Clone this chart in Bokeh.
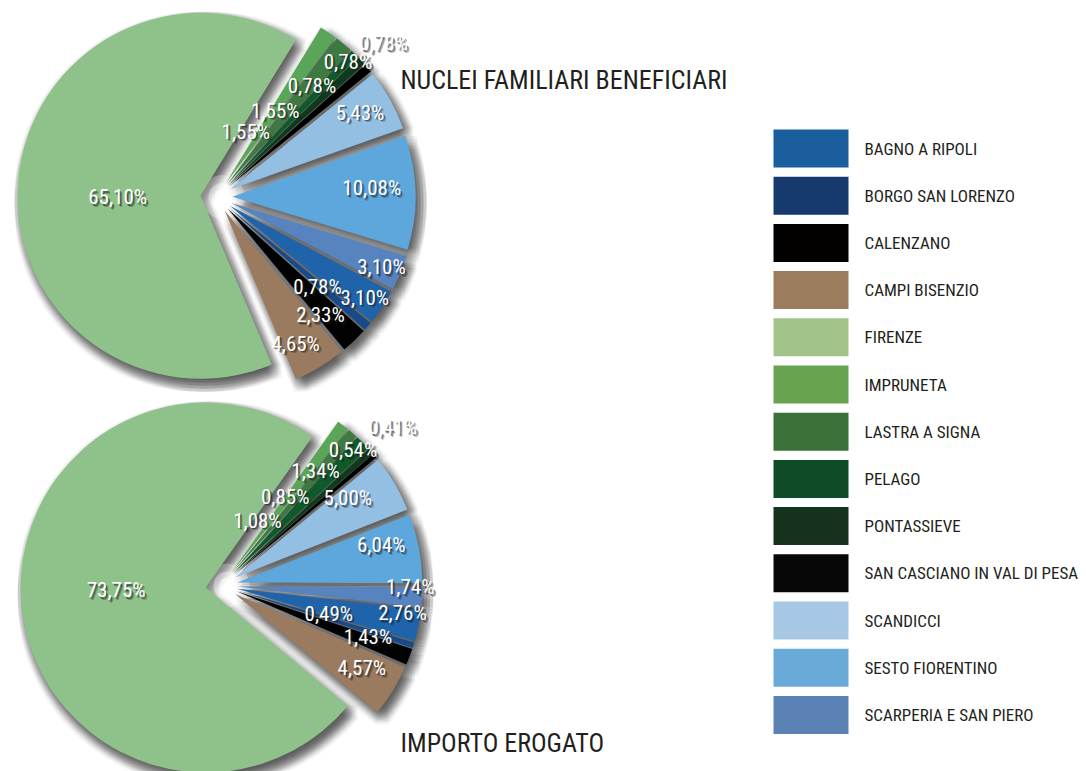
import numpy as np
from bokeh.plotting import figure
from bokeh.models import Range1d, ColumnDataSource
from bokeh.core.properties import value
from bokeh.embed import file_html
from bokeh.resources import INLINE

# ---------------- data ----------------
comuni = ["BAGNO A RIPOLI", "BORGO SAN LORENZO", "CALENZANO", "CAMPI BISENZIO",
          "FIRENZE", "IMPRUNETA", "LASTRA A SIGNA", "PELAGO", "PONTASSIEVE",
          "SAN CASCIANO IN VAL DI PESA", "SCANDICCI", "SESTO FIORENTINO",
          "SCARPERIA E SAN PIERO"]
nuclei_pct = [3.10, 0.78, 2.33, 4.65, 65.10, 1.55, 1.55, 0.78, 0.78, 0.78, 5.43, 10.08, 3.10]
importo_pct = [2.76, 0.49, 1.43, 4.57, 73.75, 1.08, 0.85, 1.34, 0.54, 0.41, 5.00, 6.04, 1.74]
titles = ["NUCLEI FAMILIARI BENEFICIARI", "IMPORTO EROGATO"]

# ---------------- styles ----------------
legend_colors = ["#1b5e9e", "#163a6e", "#030000", "#9b7c5e", "#a2c48a", "#68a44f",
                 "#3b7038", "#0e4b27", "#15331c", "#070707", "#a6c8e4", "#6aaad9", "#5a82b5"]
slice_colors = ["#1f64aa", "#174a8a", "#020202", "#9a7b5f", "#8fc18b", "#5aa557",
                "#3d7a3f", "#0e5a2a", "#0f3a1d", "#000000", "#93bfe3", "#5ea7dc", "#5783bf"]
FONT = value("'Roboto Condensed', 'Liberation Sans Narrow', 'DejaVu Sans Condensed', Roboto, sans-serif")

W, H = 1086, 771
IMG_H = 771


def iy(y):
    # convert a reference-image y (downwards) to data y (upwards)
    return IMG_H - y


p = figure(width=W, height=H, x_range=Range1d(0, W), y_range=Range1d(0, H),
           output_backend="svg", toolbar_location=None, min_border=0,
           x_axis_location=None, y_axis_location=None)
p.grid.visible = False
p.outline_line_color = None
p.background_fill_color = "white"
p.border_fill_color = "white"

# pie layout: centre (image px), radius, explode distance, angle where first slice starts (deg)
pies = [
    dict(vals=nuclei_pct, cx=216, cy=196.5, R=183, d=16, theta0=-28.0,
         rf=[0.98, 0.74, 0.86, 0.91, 0.54, 0.39, 0.57, 0.80, 1.03, 1.24, 0.91, 0.85, 0.98],
         da=[-0.6, -1.2, -2.5, -2.9, 4.5, 10.0, 5.5, 3.3, 2.6, 2.2, 1.2, 2.0, -0.7],
         title_x=400, title_y=79),
    dict(vals=importo_pct, cx=221, cy=585, R=185, d=16, theta0=-6.5,
         rf=[0.99, 0.60, 0.84, 0.88, 0.57, 0.40, 0.59, 0.80, 1.02, 1.26, 0.83, 0.89, 1.02],
         da=[2.7, 2.6, 1.3, 1.1, -4.75, 8.2, 5.0, 5.2, 3.9, 2.5, 4.1, 3.5, 2.8],
         title_x=400, title_y=742),
]

for k, pc in enumerate(pies):
    v = np.array(pc["vals"], dtype=float)
    span = v / v.sum() * 2 * np.pi
    top = np.radians(pc["theta0"]) - np.concatenate([[0.0], np.cumsum(span)[:-1]])
    start = top - span
    end = top
    mid = (start + end) / 2
    cx, cy = pc["cx"], iy(pc["cy"])
    ax = cx + pc["d"] * np.cos(mid)
    ay = cy + pc["d"] * np.sin(mid)
    R = pc["R"]

    # soft drop shadow: many faint offset copies
    sx, sy, ss, se = [], [], [], []
    for ox in np.linspace(-6, 6, 5):
        for oy in np.linspace(-6, 6, 5):
            sx.extend(ax + 4 + ox)
            sy.extend(ay - 6 + oy)
            ss.extend(start)
            se.extend(end)
    p.wedge(x=sx, y=sy, radius=R + 1, start_angle=ss, end_angle=se,
            fill_color="#303030", fill_alpha=0.05, line_color=None)

    # light glow at the centre
    for r_g, a_g in [(22, 0.25), (14, 0.35), (8, 0.5)]:
        p.scatter(x=[cx + 6], y=[cy], size=2 * r_g, fill_color="white", fill_alpha=a_g,
                  line_color=None)

    src = ColumnDataSource(dict(x=ax, y=ay, s=start, e=end, c=slice_colors))
    p.wedge(x="x", y="y", radius=R, start_angle="s", end_angle="e", fill_color="c",
            line_color=None, source=src)

    # labels
    la = mid + np.radians(pc["da"])
    lx = cx + np.array(pc["rf"]) * R * np.cos(la)
    ly = cy + np.array(pc["rf"]) * R * np.sin(la)
    txt = [f"{x:.2f}".replace(".", ",") + "%" for x in v]
    for (dx, dy, a) in [(2.5, -2.5, 0.3), (1.5, -1.5, 0.5)]:
        p.text(x=lx + dx, y=ly + dy, text=txt, text_color="#1a1a1a", text_alpha=a,
               text_font=FONT, text_font_size="21px", text_align="center",
               text_baseline="middle")
    p.text(x=lx, y=ly, text=txt, text_color="white", text_font=FONT,
           text_font_size="21px", text_align="center", text_baseline="middle")

    p.text(x=[pc["title_x"]], y=[iy(pc["title_y"])], text=[titles[k]], text_color="#231f20",
           text_font=FONT, text_font_size="26px", text_align="left",
           text_baseline="alphabetic")

# legend
n = len(comuni)
ly = np.array([iy(148 + i * 47.2) for i in range(n)])
p.rect(x=[810.5] * n, y=ly, width=75, height=38, fill_color=legend_colors, line_color=None)
p.text(x=[864] * n, y=ly, text=comuni, text_color="#231f20", text_font=FONT,
       text_font_size="17px", text_align="left", text_baseline="middle")

open("out.html", "w").write(file_html(p, INLINE))
